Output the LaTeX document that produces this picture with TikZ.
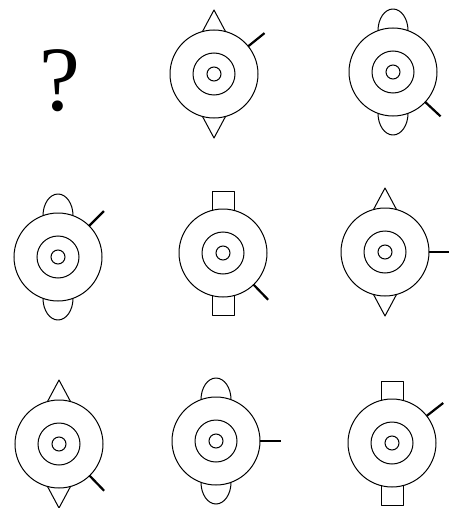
\documentclass[tikz,border=0pt]{standalone}
\usepackage{fontspec}
\setmainfont{Liberation Serif}
\usetikzlibrary{calc}
\tikzset{disc/.style={line width=1pt},stub/.style={line width=2.2pt},lug/.style={line width=1pt,line join=round}}

\begin{document}
\begin{tikzpicture}[x=1pt,y=-1pt]
\useasboundingbox (0,0) rectangle (449,508);
\node (mark) at (60,81) {\fontsize{92}{92}\selectfont ?};
% three rings and a stub on each disc
\foreach \n/\x/\y/\a in {b/214/74/-39,c/393/72/43,d/58/257/-45,e/223/253/46,f/385/252/0,g/59/444/46,h/216/441/0,i/392/443/-38}{
  \coordinate (\n) at (\x,\y);
  \draw[disc] (\n) circle[radius=44] (\n) circle[radius=21] (\n) circle[radius=7];
  \draw[stub] ($(\n)+(\a:44)$) -- ($(\n)+(\a:65)$);
}
% triangles
\foreach \n in {b,f,g}{
  \draw[lug] ($(\n)+(-11.5,-42.5)$) -- ($(\n)+(0,-64)$) -- ($(\n)+(11.5,-42.5)$);
  \draw[lug] ($(\n)+(-11.5,42.5)$) -- ($(\n)+(0,64)$) -- ($(\n)+(11.5,42.5)$);
}
% round ears
\foreach \n in {c,d,h}{
  \draw[lug] ($(\n)+(-15,-41.4)$) arc[start angle=180,end angle=360,x radius=15,y radius=21.6];
  \draw[lug] ($(\n)+(-15,41.4)$) arc[start angle=180,end angle=0,x radius=15,y radius=21.6];
}
% square tabs
\foreach \n in {e,i}{
  \draw[lug] ($(\n)+(-11,-42.6)$) -- ($(\n)+(-11,-62)$) -- ($(\n)+(11,-62)$) -- ($(\n)+(11,-42.6)$);
  \draw[lug] ($(\n)+(-11,42.6)$) -- ($(\n)+(-11,62)$) -- ($(\n)+(11,62)$) -- ($(\n)+(11,42.6)$);
}
\end{tikzpicture}
\end{document}
